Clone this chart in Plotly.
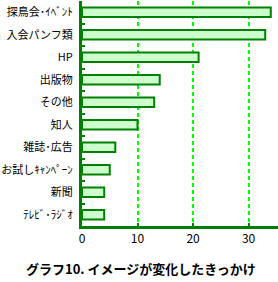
import plotly.graph_objects as go

categories = ["探鳥会･ｲﾍﾞﾝﾄ", "入会パンフ類", "HP", "出版物", "その他", "知人",
              "雑誌･広告", "お試しｷｬﾝﾍﾟｰﾝ", "新聞", "ﾃﾚﾋﾞ･ﾗｼﾞｵ"]
values = [34, 33, 21, 14, 13, 10, 6, 5, 4, 4]
x_ticks = [0, 10, 20, 30]
title_text = "グラフ10. イメージが変化したきっかけ"

FONT = "Noto Sans CJK JP"
GREEN = "#008000"

fig = go.Figure(go.Bar(
    y=categories, x=values, orientation="h",
    marker=dict(color="#ccffcc", line=dict(color=GREEN, width=2)),
    width=0.42,
))

fig.update_layout(
    width=278, height=282,
    margin=dict(l=82, r=0, t=1, b=56),
    paper_bgcolor="white", plot_bgcolor="white",
    showlegend=False,
    font=dict(family=FONT, size=11, color="black"),
)
fig.update_xaxes(
    range=[0, 35.3], tickvals=x_ticks, ticktext=[str(v) for v in x_ticks],
    showgrid=True, gridcolor="#00ff00", griddash="4px,3px", gridwidth=1.5,
    showline=True, linecolor=GREEN, linewidth=3,
    ticks="inside", ticklen=3, tickcolor=GREEN, tickwidth=2,
    zeroline=False, tickfont=dict(size=12, family=FONT),
    fixedrange=True,
)
fig.update_yaxes(
    categoryorder="array", categoryarray=categories, autorange="reversed",
    showline=True, linecolor=GREEN, linewidth=3,
    ticks="inside", tickson="boundaries", ticklen=3, tickcolor=GREEN, tickwidth=2,
    showgrid=False, zeroline=False,
    tickfont=dict(size=11, family=FONT),
    ticklabelstandoff=4,
)
fig.add_annotation(
    text="<b>" + title_text + "</b>", xref="paper", yref="paper",
    x=0.3, y=-0.19, xanchor="center", yanchor="middle", showarrow=False,
    font=dict(size=13, family=FONT, color="black"),
)
fig.write_html("out.html")
